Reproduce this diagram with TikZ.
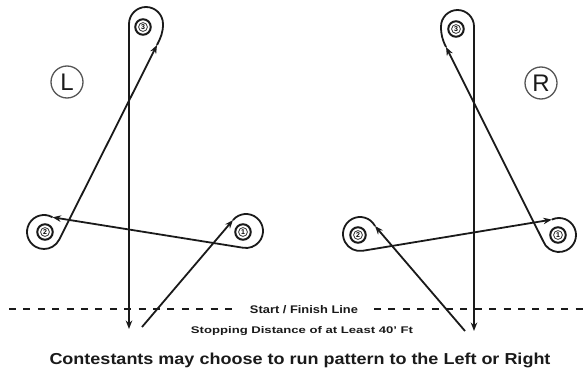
\documentclass[tikz,border=0pt]{standalone}
\usepackage{fontspec}
\setmainfont{Liberation Sans}
\usepackage{graphicx}
\usetikzlibrary{arrows.meta,calc}
\definecolor{ink}{HTML}{1A1A1A}
\definecolor{ringgray}{HTML}{555555}
\begin{document}
\begin{tikzpicture}[x=1pt,y=1pt,
  route/.style={draw=ink, line width=1.8pt},
  arr/.style={route, -{Stealth[length=8.5pt,width=6.5pt]}},
  barrel/.style={circle, draw=ink, line width=2pt, minimum size=15.5pt, inner sep=0pt,
    font=\fontsize{7}{7}\selectfont\bfseries,
    path picture={\draw[ink, line width=0.7pt] (path picture bounding box.center) circle (4.4pt);}},
  side/.style={circle, draw=ringgray, line width=1.3pt, minimum size=32pt, inner sep=0pt,
    text=ink, font=\fontsize{24}{24}\selectfont},
  dashline/.style={draw=ink, line width=2.2pt, dash pattern=on 7pt off 7.4pt},
  label/.style={anchor=base, inner sep=0pt, text=ink, font=\bfseries}
]
\useasboundingbox (0,0) rectangle (586,389);

% ---------- left pattern ----------
\node[barrel] (L1) at (243,157) {1};
\node[barrel] (L2) at (45,157) {2};
\node[barrel] (L3) at (143,362) {3};
\coordinate (lc1) at (246,158);
\coordinate (lc2) at (44,157);
\coordinate (lc3) at (146,365);
\coordinate (SL) at (142,62);
\coordinate (FL) at (129,60);
\coordinate (T1) at ($(lc1)+(140:17)$);
\coordinate (T2) at ($(lc2)+(60:17)$);
\coordinate (T3) at (157,344);
\draw[arr] (SL) -- (T1);
\draw[arr] (T1) arc[start angle=140, end angle=-100, radius=17] -- (T2);
\draw[arr] (T2) arc[start angle=60, end angle=333, radius=17] -- (T3);
\draw[arr] (T3) to[out=63,in=-90] ($(lc3)+(17,0)$) arc[start angle=0, end angle=180, radius=17] -- (FL);
\node[side] (Lside) at (67,307) {L};

% ---------- right pattern ----------
\node[barrel] (R1) at (558,154) {1};
\node[barrel] (R2) at (358,154) {2};
\node[barrel] (R3) at (456,360) {3};
\coordinate (rc1) at (559,154);
\coordinate (rc2) at (360,155);
\coordinate (rc3) at (457.5,362.5);
\coordinate (SR) at (465,58);
\coordinate (FR) at (474,58);
\coordinate (U2) at ($(rc2)+(28:17)$);
\coordinate (U1) at ($(rc1)+(115:17)$);
\coordinate (U3) at (446,342);
\draw[arr] (SR) -- (U2);
\draw[arr] (U2) arc[start angle=28, end angle=279.4, radius=17] -- (U1);
\draw[arr] (U1) arc[start angle=115, end angle=-160, radius=17] -- (U3);
\draw[arr] (U3) to[out=116,in=-90] ($(rc3)+(-16.5,0)$) arc[start angle=180, end angle=0, radius=16.5] -- (FR);
\node[side] (Rside) at (541,306) {R};

% ---------- start / finish ----------
\coordinate (da) at (9,80);
\coordinate (db) at (239,80);
\coordinate (dc) at (374,80);
\coordinate (dd) at (586,80);
\draw[dashline] (da) -- (db);
\draw[dashline] (dc) -- (dd);
\node[label] (start) at (304,76) {\resizebox{108pt}{8pt}{Start / Finish Line}};
\node[label] (stop) at (302,55.5) {\resizebox{222pt}{7pt}{Stopping Distance of at Least 40' Ft}};
\node[label, font=\mdseries] (note) at (300,25) {\resizebox{501pt}{11.5pt}{\textbf{Contestants may choose to run pattern to the Left or Right}}};
\end{tikzpicture}
\end{document}
